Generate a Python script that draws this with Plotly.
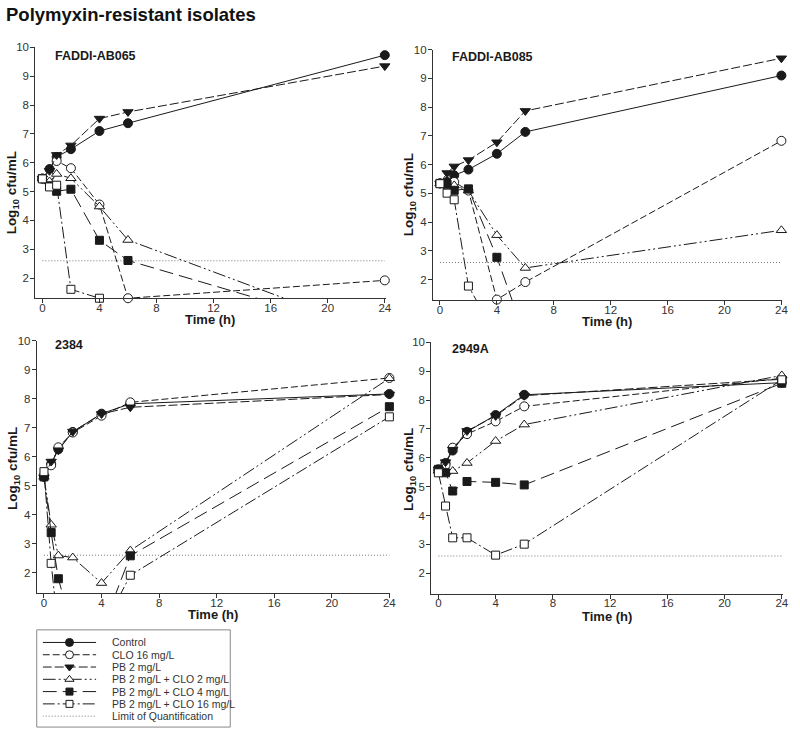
import plotly.graph_objects as go

# ---------------- data ----------------
times = [0, 0.5, 1, 2, 4, 6, 24]
x_ticks = [0, 4, 8, 12, 16, 20, 24]
y_ticks = [2, 3, 4, 5, 6, 7, 8, 9, 10]
loq = 2.6

series_names = ["Control", "CLO 16 mg/L", "PB 2 mg/L", "PB 2 mg/L + CLO 2 mg/L",
                "PB 2 mg/L + CLO 4 mg/L", "PB 2 mg/L + CLO 16 mg/L"]
loq_name = "Limit of Quantification"
panel_titles = ["FADDI-AB065", "FADDI-AB085", "2384", "2949A"]

# FADDI-AB065
ab065_control = [5.45, 5.78, 6.2, 6.47, 7.1, 7.37, 9.73]
ab065_clo16 = [5.45, 5.52, 6.06, 5.81, 4.55, 1.3, 1.92]
ab065_pb2 = [5.45, 5.72, 6.27, 6.6, 7.53, 7.76, 9.35]
ab065_pb2_clo2 = [5.45, 5.35, 5.61, 5.46, 4.48, 3.32, 0]
ab065_pb2_clo4 = [5.45, 5.2, 5.01, 5.08, 3.31, 2.61, 0]
ab065_pb2_clo16 = [5.44, 5.16, 5.22, 1.61, 1.3, 0, 0]

# FADDI-AB085
ab085_control = [5.35, 5.4, 5.63, 5.83, 6.38, 7.14, 9.1]
ab085_clo16 = [5.35, 5.25, 5.4, 5.1, 1.31, 1.92, 6.83]
ab085_pb2 = [5.35, 5.71, 5.94, 6.16, 6.78, 7.87, 9.7]
ab085_pb2_clo2 = [5.35, 5.3, 5.28, 5.1, 3.55, 2.41, 3.72]
ab085_pb2_clo4 = [5.35, 5.32, 5.11, 5.16, 2.78, 0, 0]
ab085_pb2_clo16 = [5.34, 5.01, 4.78, 1.78, 0, 0, 0]

# 2384
s2384_control = [5.32, 5.75, 6.25, 6.85, 7.48, 7.82, 8.16]
s2384_clo16 = [5.3, 5.7, 6.32, 6.83, 7.41, 7.87, 8.71]
s2384_pb2 = [5.28, 5.83, 6.22, 6.86, 7.47, 7.7, 8.14]
s2384_pb2_clo2 = [5.3, 3.65, 2.59, 2.52, 1.64, 2.76, 8.7]
s2384_pb2_clo4 = [5.3, 3.38, 1.79, 0, 0, 2.58, 7.72]
s2384_pb2_clo16 = [5.48, 2.32, 0, 0, 0, 1.91, 7.37]

# 2949A
s2949a_control = [5.6, 5.82, 6.25, 6.9, 7.48, 8.18, 8.6]
s2949a_clo16 = [5.55, 5.75, 6.35, 6.82, 7.26, 7.78, 8.75]
s2949a_pb2 = [5.6, 5.85, 6.28, 6.93, 7.45, 8.15, 8.72]
s2949a_pb2_clo2 = [5.55, 5.5, 5.54, 5.82, 6.58, 7.15, 8.85]
s2949a_pb2_clo4 = [5.6, 5.48, 4.85, 5.18, 5.15, 5.06, 8.58]
s2949a_pb2_clo16 = [5.48, 4.33, 3.23, 3.23, 2.63, 3.01, 8.7]

panel_data = [
    [ab065_control, ab065_clo16, ab065_pb2, ab065_pb2_clo2, ab065_pb2_clo4, ab065_pb2_clo16],
    [ab085_control, ab085_clo16, ab085_pb2, ab085_pb2_clo2, ab085_pb2_clo4, ab085_pb2_clo16],
    [s2384_control, s2384_clo16, s2384_pb2, s2384_pb2_clo2, s2384_pb2_clo4, s2384_pb2_clo16],
    [s2949a_control, s2949a_clo16, s2949a_pb2, s2949a_pb2_clo2, s2949a_pb2_clo4, s2949a_pb2_clo16],
]

# ---------------- styles / layout ----------------
W, H = 800, 735
FONT = "Liberation Sans, Arial, sans-serif"
INK = "#1a1a1a"
AXC = "#333333"

styles = [
    dict(dash="solid", symbol="circle", fill=INK, size=9),
    dict(dash="7px,3px", symbol="circle", fill="white", size=9),
    dict(dash="9px,3px", symbol="triangle-down", fill=INK, size=9),
    dict(dash="13px,3px,2px,3px,2px,3px", symbol="triangle-up", fill="white", size=9),
    dict(dash="14px,6px", symbol="square", fill=INK, size=8),
    dict(dash="12px,3px,2px,3px", symbol="square", fill="white", size=8),
]
loq_style = dict(color="#777777", dash="1px,2px", width=1)

# pixel geometry of each panel: (px of t=0, px of t=24, py of y=10, py of y=2)
geom = [
    (42.7, 387.7, 41.7, 274.3),
    (443.3, 787.3, 44.0, 276.0),
    (44.3, 392.3, 337.3, 571.3),
    (441.7, 787.7, 339.0, 572.0),
]
x_range = [-0.5, 24.05]
y_range = [1.3, 10]
label_pos = [(53, 50), (453, 51), (53, 342), (453, 346)]
ytitle_x = [13, 413, 13, 412]
ytitle_y = [188, 190, 466, 467]
xtitle_y = [316, 318, 614, 616]

fig = go.Figure()
annotations = []

for p in range(4):
    n = "" if p == 0 else str(p + 1)
    px0, px24, py10, py2 = geom[p]
    ux = (px24 - px0) / 24.0
    uy = (py2 - py10) / 8.0
    left = px0 + x_range[0] * ux
    right = px0 + x_range[1] * ux
    top = py10 - (10 - y_range[1]) * uy
    bottom = py10 + (10 - y_range[0]) * uy
    axis_common = dict(showline=True, linecolor=AXC, linewidth=1, ticks="outside",
                       ticklen=4, tickwidth=1, tickcolor=AXC, showgrid=False,
                       zeroline=False, tickfont=dict(family=FONT, size=11.5, color=AXC))
    fig.update_layout(**{
        "xaxis" + n: dict(domain=[left / W, right / W], range=x_range, tickvals=x_ticks,
                          anchor="y" + n, ticklabelstandoff=-5, **axis_common),
        "yaxis" + n: dict(domain=[1 - bottom / H, 1 - top / H], range=y_range,
                          tickvals=y_ticks, anchor="x" + n, ticklabelstandoff=-1,
                          **axis_common),
    })
    # limit of quantification
    fig.add_trace(go.Scatter(x=[times[0], times[-1]], y=[loq, loq], mode="lines",
                             line=loq_style, xaxis="x" + n, yaxis="y" + n,
                             showlegend=False, hoverinfo="skip"))
    for s, vals in enumerate(panel_data[p]):
        st = styles[s]
        fig.add_trace(go.Scatter(
            x=times, y=vals, mode="lines+markers", name=series_names[s],
            line=dict(color=INK, width=1, dash=st["dash"]),
            marker=dict(symbol=st["symbol"], size=st["size"], color=st["fill"],
                        line=dict(color=INK, width=1)),
            cliponaxis=False, xaxis="x" + n, yaxis="y" + n, showlegend=False))
    lx, ly = label_pos[p]
    annotations.append(dict(text="<b>" + panel_titles[p] + "</b>", x=lx / W, y=1 - ly / H,
                            xref="paper", yref="paper", xanchor="left", yanchor="middle",
                            align="left", showarrow=False,
                            font=dict(family=FONT, size=12.5, color=INK)))
    annotations.append(dict(text="<b>Log<sub>10</sub> cfu/mL</b>", x=ytitle_x[p] / W,
                            y=1 - ytitle_y[p] / H, xref="paper", yref="paper",
                            textangle=-90, xanchor="center", yanchor="middle",
                            showarrow=False, font=dict(family=FONT, size=13.5, color=INK)))
    annotations.append(dict(text="<b>Time (h)</b>", x=(left + right) / 2 / W,
                            y=1 - xtitle_y[p] / H, xref="paper", yref="paper",
                            xanchor="center", yanchor="middle", showarrow=False,
                            font=dict(family=FONT, size=13, color=INK)))

# ---------------- legend (drawn on a hidden helper axis) ----------------
leg_rows = len(series_names) + 1
leg_top, leg_bottom = 635.5, 722.2
fig.update_layout(
    xaxis5=dict(domain=[43 / W, 97 / W], range=[0, 1], visible=False, anchor="y5"),
    yaxis5=dict(domain=[1 - leg_bottom / H, 1 - leg_top / H], range=[leg_rows - 0.5, -0.5],
                visible=False, anchor="x5"),
)
row_h = (leg_bottom - leg_top) / leg_rows


def row_y(i):
    return 1 - (leg_top + row_h * (i + 0.5)) / H


for s, name in enumerate(series_names):
    st = styles[s]
    fig.add_trace(go.Scatter(x=[0, 1], y=[s, s], mode="lines",
                             line=dict(color=INK, width=1, dash=st["dash"]),
                             xaxis="x5", yaxis="y5", showlegend=False, hoverinfo="skip"))
    fig.add_trace(go.Scatter(x=[0.5], y=[s], mode="markers",
                             marker=dict(symbol=st["symbol"], size=st["size"] - 1,
                                         color=st["fill"], line=dict(color=INK, width=1)),
                             cliponaxis=False, xaxis="x5", yaxis="y5", showlegend=False,
                             hoverinfo="skip"))
    annotations.append(dict(text=name, x=111 / W, y=row_y(s), xref="paper", yref="paper",
                            xanchor="left", yanchor="middle", align="left", showarrow=False,
                            font=dict(family=FONT, size=10.5, color=AXC)))
fig.add_trace(go.Scatter(x=[0, 1], y=[leg_rows - 1] * 2, mode="lines", line=loq_style,
                         xaxis="x5", yaxis="y5", showlegend=False, hoverinfo="skip"))
annotations.append(dict(text=loq_name, x=111 / W, y=row_y(leg_rows - 1), xref="paper",
                        yref="paper", xanchor="left", yanchor="middle", align="left",
                        showarrow=False, font=dict(family=FONT, size=10.5, color=AXC)))

# main title
annotations.append(dict(text="<b>Polymyxin-resistant isolates</b>", x=4 / W, y=1 - 9 / H,
                        xref="paper", yref="paper", xanchor="left", yanchor="middle",
                        showarrow=False, font=dict(family=FONT, size=18.5, color="#111111")))

fig.update_layout(
    width=W, height=H, margin=dict(l=0, r=0, t=0, b=0),
    paper_bgcolor="white", plot_bgcolor="white", showlegend=False,
    annotations=annotations,
    shapes=[dict(type="rect", xref="paper", yref="paper", x0=37 / W, x1=232 / W,
                 y0=1 - 727 / H, y1=1 - 629 / H, line=dict(color="#888888", width=1))],
)

fig.write_html("out.html", config={"displayModeBar": False},
               post_script="document.body.style.margin='0px';")
